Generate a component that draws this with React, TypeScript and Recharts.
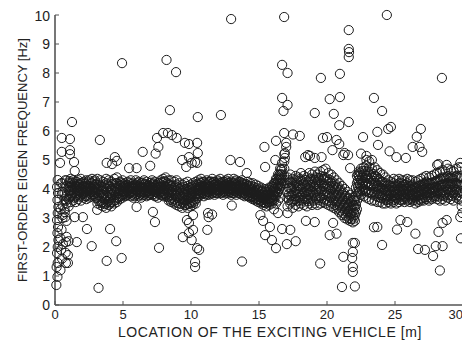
import { ScatterChart, Scatter, XAxis, YAxis } from "recharts";

const xTicks = [0, 5, 10, 15, 20, 25, 30];
const yTicks = [0, 1, 2, 3, 4, 5, 6, 7, 8, 9, 10];

// dense band, one row per location: [x, ...frequencies]
const bandNear = [
  [0.55, 3.1, 3.45, 3.9, 4.2],
  [0.7, 3.3, 3.65, 3.85, 4.05],
  [0.85, 3.5, 3.75, 4.1, 4.3],
  [1.0, 3.4, 3.65, 3.95, 4.2],
  [1.15, 3.55, 3.75, 3.95, 4.2, 4.35],
  [1.33, 3.6, 3.85, 4.05, 4.3],
  [1.52, 3.55, 3.75, 4.0, 4.1, 4.25],
  [1.71, 3.65, 3.85, 3.95, 4.15, 4.3],
  [1.9, 3.6, 3.8, 4.0, 4.2, 4.35],
  [2.12, 3.7, 3.85, 4.1, 4.25],
  [2.3, 3.65, 3.75, 3.9, 4.05, 4.3],
  [2.51, 3.7, 3.85, 3.95, 4.1, 4.3],
  [2.72, 3.8, 3.9, 4.0, 4.2, 4.35],
  [2.93, 3.75, 3.9, 4.05, 4.15, 4.3],
  [3.12, 3.5, 3.7, 3.95, 4.2, 4.35],
  [3.34, 3.45, 3.6, 3.85, 4.1, 4.3],
  [3.53, 3.4, 3.55, 3.8, 3.95, 4.05, 4.25],
  [3.76, 3.35, 3.5, 3.75, 4.0, 4.2, 4.35],
  [3.95, 3.45, 3.6, 3.85, 4.1, 4.3],
  [4.14, 3.4, 3.55, 3.8, 3.95, 4.0, 4.25],
  [4.36, 3.5, 3.6, 3.9, 4.15, 4.35],
  [4.55, 3.55, 3.7, 3.95, 4.2, 4.4],
  [4.77, 3.65, 3.75, 4.0, 4.1, 4.25],
  [4.96, 3.7, 3.8, 3.9, 4.05, 4.3],
  [5.16, 3.75, 3.85, 4.0, 4.1, 4.2],
  [5.34, 3.8, 3.95, 4.05, 4.25],
  [5.57, 3.75, 3.9, 4.0, 4.1, 4.3],
  [5.76, 3.7, 3.85, 4.0, 4.1, 4.2],
  [5.94, 3.8, 3.95, 4.05, 4.15, 4.3],
  [6.16, 3.75, 3.9, 4.0, 4.1, 4.25],
  [6.33, 3.7, 3.85, 3.95, 4.05, 4.2],
  [6.55, 3.8, 3.9, 4.0, 4.15, 4.3],
  [6.74, 3.75, 3.9, 4.1, 4.25],
  [6.96, 3.8, 3.85, 4.0, 4.1, 4.2],
  [7.14, 3.8, 3.95, 4.05, 4.15, 4.3],
  [7.35, 3.75, 3.9, 4.0, 4.1, 4.25],
  [7.56, 3.7, 3.85, 3.95, 4.05, 4.2],
  [7.77, 3.8, 3.9, 4.1, 4.3],
  [7.95, 3.75, 3.85, 4.0, 4.2, 4.35],
  [8.13, 3.8, 3.95, 4.05, 4.25, 4.4],
  [8.36, 3.6, 3.75, 3.95, 4.15, 4.3],
  [8.54, 3.55, 3.7, 3.9, 4.1, 4.3],
  [8.77, 3.5, 3.65, 3.85, 4.05, 4.25],
  [8.94, 3.45, 3.7, 3.95, 4.15, 4.3],
  [9.15, 3.4, 3.6, 3.8, 4.0, 4.2],
  [9.36, 3.35, 3.55, 3.75, 3.95, 4.15],
  [9.54, 3.45, 3.6, 3.8, 4.0, 4.2],
  [9.75, 3.35, 3.5, 3.7, 3.9, 4.1, 4.25],
  [9.96, 3.4, 3.55, 3.75, 3.95, 4.15],
  [10.14, 3.45, 3.6, 3.8, 4.0, 4.2],
  [10.35, 3.5, 3.65, 3.85, 4.05, 4.25],
];

const bandMid = [
  [10.55, 3.75, 3.85, 3.95, 4.15, 4.3],
  [10.74, 3.8, 3.9, 4.0, 4.2, 4.35],
  [10.95, 3.75, 3.85, 4.05, 4.1, 4.25],
  [11.16, 3.8, 3.9, 4.0, 4.15, 4.3],
  [11.34, 3.8, 3.9, 4.05, 4.1, 4.25],
  [11.56, 3.85, 3.95, 4.0, 4.2, 4.35],
  [11.73, 3.8, 3.9, 4.05, 4.15, 4.25],
  [11.95, 3.85, 3.95, 4.1, 4.3],
  [12.14, 3.85, 3.95, 4.05, 4.2, 4.35],
  [12.36, 3.8, 3.9, 4.0, 4.1, 4.25],
  [12.55, 3.85, 4.05, 4.15, 4.3],
  [12.74, 3.85, 3.95, 4.0, 4.2, 4.35],
  [12.96, 3.8, 3.9, 4.0, 4.1, 4.25],
  [13.15, 3.85, 3.95, 4.05, 4.2, 4.35],
  [13.33, 3.8, 3.9, 4.0, 4.15, 4.3],
  [13.56, 3.85, 3.95, 4.05, 4.1, 4.25],
  [13.75, 3.8, 3.9, 4.0, 4.2, 4.3],
  [13.94, 3.75, 3.85, 4.0, 4.05, 4.15],
  [14.16, 3.75, 3.85, 3.95, 4.1, 4.25],
  [14.35, 3.7, 3.8, 3.9, 4.05, 4.2],
  [14.54, 3.65, 3.75, 3.85, 4.0, 4.2],
  [14.76, 3.6, 3.7, 3.8, 3.95, 4.15],
  [14.95, 3.55, 3.65, 3.75, 3.95, 4.1],
  [15.16, 3.5, 3.6, 3.7, 3.9, 4.05],
  [15.34, 3.45, 3.55, 3.65, 3.85, 4.0],
  [15.55, 3.4, 3.5, 3.6, 3.8, 4.0],
  [15.76, 3.45, 3.55, 3.65, 3.85, 4.05],
  [15.95, 3.5, 3.6, 3.7, 3.9, 4.1],
  [16.1, 3.3, 3.6, 3.8, 4.0, 4.2],
  [16.25, 3.5, 3.75, 3.95, 4.15, 4.35],
  [16.4, 3.6, 3.9, 4.1, 4.3, 4.5],
  [16.55, 3.7, 4.1, 4.3, 4.5, 4.7],
  [16.7, 4.3, 4.5, 4.7, 4.9],
  [16.86, 4.2, 4.45, 4.7, 4.95, 5.2],
  [17.1, 3.4, 3.7, 3.9, 4.2, 4.4],
  [17.3, 3.5, 3.75, 4.05, 4.25, 4.5],
  [17.48, 3.35, 3.6, 3.85, 4.1, 4.35],
  [17.7, 3.45, 3.65, 3.95, 4.2, 4.45],
  [17.9, 3.4, 3.7, 3.9, 4.15, 4.4],
  [18.08, 3.5, 3.75, 4.0, 4.3, 4.55],
  [18.3, 3.45, 3.7, 3.9, 4.2, 4.45],
  [18.52, 3.4, 3.65, 3.95, 4.15, 4.4],
  [18.7, 3.5, 3.8, 4.0, 4.3, 4.55],
  [18.9, 3.45, 3.7, 3.95, 4.25, 4.5],
  [19.12, 3.5, 3.8, 4.05, 4.3, 4.6],
  [19.3, 3.45, 3.7, 4.0, 4.25, 4.5],
  [19.5, 3.5, 3.75, 4.0, 4.3, 4.6],
  [19.72, 3.55, 3.8, 4.1, 4.35, 4.65],
  [19.9, 3.5, 3.8, 4.05, 4.3, 4.7],
  [20.1, 3.45, 3.75, 4.0, 4.25, 4.55],
  [20.3, 3.4, 3.7, 3.95, 4.2, 4.5],
];

const bandFar = [
  [20.5, 3.35, 3.6, 3.85, 4.1, 4.4],
  [20.7, 3.3, 3.55, 3.8, 4.05, 4.3],
  [20.9, 3.2, 3.45, 3.7, 3.95, 4.2],
  [21.1, 3.1, 3.35, 3.6, 3.85, 4.1],
  [21.3, 3.0, 3.25, 3.5, 3.75, 4.0],
  [21.5, 2.95, 3.2, 3.4, 3.65, 3.9],
  [21.7, 2.9, 3.1, 3.3, 3.55, 3.8],
  [21.9, 2.85, 3.05, 3.25, 3.45, 3.7],
  [22.05, 2.9, 3.1, 3.35, 3.6],
  [22.2, 3.3, 3.6, 3.9, 4.2, 4.45],
  [22.35, 3.7, 3.95, 4.2, 4.45, 4.6],
  [22.5, 3.8, 4.05, 4.3, 4.5, 4.7],
  [22.7, 3.75, 4.0, 4.25, 4.5, 4.75],
  [22.9, 3.7, 3.95, 4.2, 4.45, 4.8, 5.0],
  [23.1, 3.65, 3.9, 4.2, 4.5, 4.75, 4.95],
  [23.3, 3.6, 3.85, 4.15, 4.4, 4.7, 5.0],
  [23.5, 3.6, 3.9, 4.2, 4.45, 4.75],
  [23.7, 3.55, 3.85, 4.1, 4.4, 4.65],
  [23.9, 3.55, 3.8, 4.05, 4.3, 4.55],
  [24.1, 3.5, 3.75, 4.0, 4.25, 4.5],
  [24.3, 3.5, 3.7, 3.95, 4.2, 4.4],
  [24.5, 3.55, 3.75, 3.95, 4.15, 4.3],
  [24.7, 3.5, 3.7, 3.9, 4.1, 4.25],
  [24.9, 3.55, 3.75, 3.95, 4.2, 4.35],
  [25.1, 3.5, 3.7, 3.9, 4.15, 4.3],
  [25.3, 3.55, 3.75, 3.95, 4.2, 4.35],
  [25.5, 3.6, 3.8, 4.0, 4.2, 4.3],
  [25.7, 3.55, 3.75, 3.95, 4.15, 4.3],
  [25.9, 3.6, 3.8, 4.0, 4.2, 4.35],
  [26.1, 3.55, 3.75, 3.9, 4.1, 4.3],
  [26.3, 3.6, 3.8, 3.95, 4.15, 4.3],
  [26.5, 3.5, 3.7, 3.85, 4.05, 4.25],
  [26.7, 3.55, 3.75, 3.9, 4.1, 4.3],
  [26.9, 3.6, 3.8, 3.95, 4.15, 4.35],
  [27.1, 3.6, 3.8, 4.0, 4.2, 4.4],
  [27.3, 3.65, 3.85, 4.05, 4.25, 4.45],
  [27.5, 3.6, 3.8, 4.0, 4.2, 4.4],
  [27.7, 3.65, 3.85, 4.0, 4.2, 4.45],
  [27.9, 3.7, 3.9, 4.05, 4.25, 4.5],
  [28.1, 3.65, 3.85, 4.05, 4.3, 4.55],
  [28.3, 3.6, 3.85, 4.1, 4.35, 4.6],
  [28.5, 3.65, 3.9, 4.15, 4.4, 4.65],
  [28.7, 3.6, 3.85, 4.1, 4.35, 4.6],
  [28.9, 3.7, 3.95, 4.2, 4.45, 4.7],
  [29.1, 3.65, 3.9, 4.15, 4.4, 4.65],
  [29.3, 3.6, 3.85, 4.1, 4.35, 4.6],
  [29.5, 3.7, 3.95, 4.2, 4.45, 4.7],
  [29.7, 3.65, 3.9, 4.15, 4.4, 4.75],
  [29.9, 3.4, 3.6, 3.85, 4.1, 4.4, 4.75],
];

// the darker core of the band, between the rows above
const coreNear = [
  [1.07, 3.72, 3.93, 4.08, 4.27], [1.25, 3.78, 3.97, 4.12, 4.22], [1.43, 3.7, 3.88, 4.02, 4.18],
  [1.62, 3.8, 3.93, 4.07, 4.24], [1.8, 3.74, 3.9, 4.04, 4.16], [2.01, 3.82, 3.96, 4.08, 4.22],
  [2.21, 3.76, 3.92, 4.03, 4.18], [2.4, 3.8, 3.97, 4.11, 4.23], [2.62, 3.74, 3.91, 4.06, 4.2],
  [2.83, 3.82, 3.94, 4.08, 4.26], [3.03, 3.68, 3.86, 4.02, 4.16], [3.23, 3.58, 3.78, 3.96, 4.14],
  [3.44, 3.52, 3.7, 3.9, 4.08], [3.65, 3.48, 3.66, 3.88, 4.12], [3.86, 3.55, 3.72, 3.92, 4.15],
  [4.05, 3.5, 3.68, 3.87, 4.08], [4.25, 3.56, 3.74, 3.96, 4.18], [4.46, 3.62, 3.8, 4.02, 4.2],
  [4.66, 3.7, 3.86, 4.04, 4.17], [4.86, 3.76, 3.92, 4.12, 4.22], [5.06, 3.82, 3.94, 4.06, 4.16],
  [5.25, 3.78, 3.9, 4.03, 4.14], [5.45, 3.84, 3.97, 4.08, 4.2], [5.66, 3.8, 3.93, 4.05, 4.18],
  [5.85, 3.76, 3.88, 4.02, 4.12], [6.05, 3.83, 3.96, 4.07, 4.2], [6.25, 3.8, 3.92, 4.04, 4.16],
  [6.44, 3.78, 3.9, 4.06, 4.22], [6.64, 3.84, 3.95, 4.05, 4.17], [6.85, 3.79, 3.92, 4.03, 4.14],
  [7.05, 3.85, 3.97, 4.09, 4.22], [7.25, 3.81, 3.93, 4.05, 4.19], [7.45, 3.77, 3.89, 4.02, 4.14],
  [7.66, 3.83, 3.96, 4.07, 4.2], [7.86, 3.8, 3.92, 4.05, 4.24], [8.04, 3.84, 3.98, 4.1, 4.27],
  [8.25, 3.72, 3.88, 4.02, 4.2], [8.45, 3.64, 3.8, 3.98, 4.15], [8.66, 3.6, 3.78, 3.96, 4.12],
  [8.86, 3.56, 3.76, 3.92, 4.1], [9.05, 3.52, 3.7, 3.88, 4.06], [9.26, 3.48, 3.66, 3.85, 4.04],
  [9.45, 3.5, 3.68, 3.86, 4.08], [9.65, 3.45, 3.62, 3.82, 4.0], [9.85, 3.48, 3.66, 3.84, 4.04],
  [10.05, 3.52, 3.7, 3.88, 4.08], [10.25, 3.56, 3.74, 3.92, 4.12], [10.45, 3.68, 3.84, 4.0, 4.16],
];

const coreMid = [
  [10.65, 3.83, 3.96, 4.08, 4.22], [10.85, 3.86, 3.98, 4.1, 4.24], [11.05, 3.82, 3.94, 4.06, 4.2],
  [11.25, 3.88, 4.0, 4.12, 4.22], [11.45, 3.84, 3.97, 4.09, 4.26], [11.65, 3.9, 4.02, 4.13, 4.24],
  [11.85, 3.86, 3.98, 4.08, 4.2], [12.05, 3.9, 4.0, 4.14, 4.26], [12.25, 3.87, 3.99, 4.11, 4.23],
  [12.45, 3.92, 4.02, 4.12, 4.24], [12.65, 3.88, 3.98, 4.1, 4.26], [12.85, 3.9, 4.03, 4.14, 4.22],
  [13.05, 3.86, 3.97, 4.08, 4.19], [13.25, 3.91, 4.02, 4.12, 4.26], [13.45, 3.87, 3.98, 4.1, 4.22],
  [13.65, 3.9, 4.01, 4.13, 4.24], [13.85, 3.84, 3.95, 4.07, 4.18], [14.05, 3.8, 3.92, 4.03, 4.16],
  [14.25, 3.76, 3.88, 3.99, 4.12], [14.45, 3.72, 3.84, 3.96, 4.1], [14.65, 3.68, 3.8, 3.92, 4.06],
  [14.85, 3.64, 3.76, 3.88, 4.02], [15.05, 3.6, 3.72, 3.84, 3.98], [15.25, 3.55, 3.68, 3.8, 3.94],
  [15.45, 3.52, 3.64, 3.76, 3.9], [15.65, 3.55, 3.66, 3.78, 3.92], [15.85, 3.58, 3.7, 3.82, 3.96],
  [16.03, 3.66, 3.8, 3.94, 4.08], [16.18, 3.76, 3.9, 4.04, 4.2], [16.33, 3.86, 4.02, 4.18, 4.34],
  [16.48, 4.0, 4.16, 4.32, 4.48], [16.62, 4.18, 4.34, 4.5, 4.66], [17.2, 3.62, 3.82, 4.04, 4.3],
  [17.4, 3.56, 3.78, 4.0, 4.22], [17.6, 3.64, 3.86, 4.08, 4.3], [17.8, 3.58, 3.8, 4.02, 4.26],
  [18.0, 3.62, 3.84, 4.1, 4.34], [18.2, 3.6, 3.82, 4.06, 4.28], [18.4, 3.66, 3.88, 4.12, 4.32],
  [18.6, 3.58, 3.8, 4.04, 4.26], [18.8, 3.64, 3.9, 4.14, 4.36], [19.0, 3.6, 3.86, 4.1, 4.34],
  [19.2, 3.66, 3.92, 4.16, 4.4], [19.4, 3.62, 3.88, 4.12, 4.38], [19.6, 3.68, 3.94, 4.2, 4.44],
  [19.8, 3.64, 3.92, 4.18, 4.42], [20.0, 3.6, 3.86, 4.12, 4.36], [20.2, 3.56, 3.82, 4.08, 4.32],
  [20.4, 3.5, 3.76, 4.02, 4.26],
];

const coreFar = [
  [20.6, 3.45, 3.7, 3.95, 4.18], [20.8, 3.36, 3.6, 3.84, 4.08], [21.0, 3.26, 3.5, 3.74, 3.98],
  [21.2, 3.16, 3.4, 3.64, 3.88], [21.4, 3.08, 3.3, 3.52, 3.76], [21.6, 3.0, 3.22, 3.44, 3.68],
  [21.8, 2.96, 3.16, 3.36, 3.58], [21.98, 2.98, 3.18, 3.4, 3.62], [22.13, 3.2, 3.45, 3.75, 4.05],
  [22.28, 3.85, 4.08, 4.3, 4.5], [22.43, 3.92, 4.14, 4.36, 4.56], [22.6, 3.95, 4.18, 4.4, 4.62],
  [22.8, 3.92, 4.15, 4.38, 4.62], [23.0, 3.88, 4.12, 4.36, 4.6], [23.2, 3.85, 4.1, 4.34, 4.58],
  [23.4, 3.8, 4.04, 4.28, 4.52], [23.6, 3.76, 3.98, 4.2, 4.44], [23.8, 3.72, 3.92, 4.12, 4.34],
  [24.0, 3.68, 3.86, 4.04, 4.24], [24.2, 3.64, 3.82, 3.98, 4.16], [24.4, 3.62, 3.78, 3.94, 4.1],
  [24.6, 3.64, 3.8, 3.95, 4.12], [24.8, 3.6, 3.76, 3.92, 4.08], [25.0, 3.63, 3.79, 3.95, 4.1],
  [25.2, 3.66, 3.82, 3.97, 4.12], [25.4, 3.62, 3.78, 3.94, 4.1], [25.6, 3.65, 3.8, 3.96, 4.13],
  [25.8, 3.68, 3.84, 3.99, 4.14], [26.0, 3.64, 3.8, 3.95, 4.1], [26.2, 3.66, 3.82, 3.96, 4.12],
  [26.4, 3.62, 3.77, 3.92, 4.08], [26.6, 3.6, 3.76, 3.9, 4.05], [26.8, 3.64, 3.8, 3.94, 4.1],
  [27.0, 3.68, 3.84, 3.98, 4.14], [27.2, 3.7, 3.86, 4.02, 4.18], [27.4, 3.72, 3.88, 4.04, 4.2],
  [27.6, 3.7, 3.86, 4.02, 4.18], [27.8, 3.74, 3.9, 4.06, 4.22], [28.0, 3.76, 3.92, 4.08, 4.26],
  [28.2, 3.74, 3.92, 4.1, 4.3], [28.4, 3.78, 3.96, 4.14, 4.34], [28.6, 3.76, 3.96, 4.16, 4.38],
  [28.8, 3.8, 4.0, 4.2, 4.4], [29.0, 3.78, 3.98, 4.18, 4.38], [29.2, 3.76, 3.96, 4.16, 4.36],
  [29.4, 3.8, 4.0, 4.2, 4.42], [29.6, 3.78, 3.98, 4.18, 4.4], [29.8, 3.74, 3.94, 4.14, 4.36],
];

// start of the track: the vertical spread close to x = 0
const edgePoints = [
  [0.2, 4.31], [0.15, 4.07], [0.22, 3.86], [0.18, 3.62], [0.25, 3.38], [0.2, 3.17],
  [0.15, 2.93], [0.22, 2.69], [0.18, 2.48], [0.25, 2.24], [0.2, 2.0], [0.15, 1.79],
  [0.2, 1.45], [0.12, 1.31], [0.18, 0.97], [0.1, 0.69],
  [0.45, 4.2], [0.5, 3.8], [0.42, 3.3], [0.55, 3.0], [0.48, 2.6], [0.4, 2.3],
  [0.58, 2.1], [0.45, 1.9], [0.52, 1.6], [0.4, 1.2],
  [0.75, 4.3], [0.8, 3.6], [0.72, 3.2], [0.85, 2.9], [0.85, 2.35], [0.78, 1.8],
  [0.95, 1.72], [0.95, 1.45], [1.0, 2.2],
];

const upperPoints = [
  [4.93, 8.34], [8.2, 8.45], [8.9, 8.03], [8.45, 6.72], [1.25, 6.31],
  [0.5, 5.76], [1.1, 5.72], [0.5, 5.28], [1.1, 5.34], [1.1, 5.2], [0.37, 4.9],
  [1.4, 4.93], [1.45, 4.62], [3.3, 5.69], [3.8, 4.9], [4.2, 4.86], [4.4, 5.1],
  [4.55, 4.97], [5.45, 4.72], [6.0, 4.72], [6.45, 5.28], [7.0, 4.8], [7.4, 5.22],
  [7.5, 5.76], [7.6, 5.45], [7.95, 5.93], [8.3, 5.93], [8.6, 5.86], [8.95, 5.76],
  [9.55, 5.59], [9.85, 5.55], [10.45, 5.59], [10.5, 5.24], [9.85, 5.1], [10.3, 4.93],
  [9.35, 5.0], [9.65, 4.76], [10.05, 4.9], [10.45, 4.9], [10.5, 6.48], [12.2, 6.55],
  [12.9, 5.0], [13.6, 4.93], [14.1, 4.55], [12.95, 9.86], [16.85, 9.93],
  [16.7, 8.28], [17.1, 8.0], [16.7, 7.14], [17.1, 6.9], [16.8, 6.69], [15.4, 5.45],
  [15.45, 4.76], [16.2, 5.0], [16.25, 5.66], [16.85, 5.93], [17.5, 5.88], [18.0, 5.83],
  [17.0, 5.59], [17.0, 5.45], [16.9, 5.24], [16.9, 5.07], [18.4, 5.1], [18.6, 5.17],
  [18.75, 5.14], [19.1, 5.07], [19.6, 5.1], [19.7, 5.76], [19.1, 6.62], [19.55, 7.83],
  [20.0, 5.79], [20.2, 7.1], [20.95, 7.17], [20.95, 7.97], [20.5, 6.59], [20.9, 6.2],
  [21.6, 6.31], [20.7, 5.69], [20.9, 5.55], [20.4, 5.34], [21.3, 5.24], [21.2, 5.17],
  [21.55, 5.17], [21.7, 4.72], [21.6, 9.48], [21.6, 8.83], [21.62, 8.72], [21.6, 8.55],
  [22.5, 5.22], [22.65, 5.79], [22.9, 5.14], [23.45, 7.14], [23.7, 5.97], [23.75, 5.52],
  [24.05, 6.69], [24.4, 10.0], [24.5, 6.07], [24.7, 6.14], [24.6, 5.3], [25.1, 5.1],
  [25.8, 5.07], [26.3, 5.45], [26.6, 5.8], [26.9, 6.07], [26.8, 5.45], [27.0, 5.28],
  [28.45, 7.83], [28.1, 4.83], [28.2, 4.86], [28.8, 4.83], [29.8, 4.9],
];

const lowerPoints = [
  [0.75, 3.03], [1.45, 3.03], [2.05, 3.03], [0.8, 2.17], [1.6, 2.17], [0.8, 1.45],
  [2.35, 2.62], [2.7, 2.03], [3.1, 3.28], [4.05, 2.62], [4.5, 2.2], [3.8, 1.52],
  [4.9, 1.62], [3.2, 0.59], [6.0, 3.38], [7.2, 3.21], [7.35, 2.86], [7.65, 1.97],
  [9.4, 2.34], [9.85, 2.48], [10.05, 2.24], [10.15, 2.59], [10.45, 1.96], [10.6, 1.9],
  [9.7, 2.93], [9.85, 2.83], [10.15, 3.1], [10.3, 1.48], [10.3, 1.31], [11.25, 3.17],
  [11.55, 3.12], [11.2, 2.59], [11.3, 3.03], [13.0, 3.43], [13.75, 1.5],
  [15.1, 3.1], [15.3, 2.9], [15.45, 2.41], [15.8, 2.69], [15.95, 2.24], [16.25, 1.96],
  [16.7, 2.62], [17.05, 2.1], [17.3, 2.59], [17.7, 2.2], [16.4, 3.17], [17.1, 3.17],
  [18.45, 2.9], [19.1, 2.86], [19.5, 1.43],
  [20.2, 2.41], [20.7, 2.46], [20.45, 2.83], [21.9, 2.14], [21.9, 1.83], [21.85, 1.62],
  [21.9, 1.31], [21.9, 1.14], [21.2, 1.66], [21.1, 0.62], [22.05, 0.64], [22.05, 2.14],
  [24.05, 2.07], [23.45, 2.68], [23.7, 2.69], [25.15, 2.6], [26.5, 2.46], [26.7, 1.93],
  [27.2, 1.9], [27.8, 1.69], [28.0, 2.03], [28.5, 2.03], [28.3, 1.19], [29.85, 2.3],
  [28.2, 2.52], [28.5, 2.83], [28.8, 2.93], [25.4, 2.93], [25.9, 2.86], [29.8, 3.03],
  [29.95, 3.17],
];

const fromRows = (rows: number[][]) =>
  rows.flatMap(([x, ...ys]) => ys.map((y) => ({ x, y })));
const fromPairs = (pairs: number[][]) => pairs.map(([x, y]) => ({ x, y }));

const points = [
  ...fromRows(bandNear),
  ...fromRows(bandMid),
  ...fromRows(bandFar),
  ...fromRows(coreNear),
  ...fromRows(coreMid),
  ...fromRows(coreFar),
  ...fromPairs(edgePoints),
  ...fromPairs(upperPoints),
  ...fromPairs(lowerPoints),
];

const Ring = (props: any) => (
  <circle cx={props.cx} cy={props.cy} r={4.6} fill="none" stroke="#1c1c1c" strokeWidth={1} />
);

const font = "'Liberation Sans', Arial, sans-serif";
const axisColor = "#555";

// last label sits left of its tick so it stays inside the picture
const XTick = (props: any) => {
  const { x, y, payload } = props;
  const last = payload.value === xTicks[xTicks.length - 1];
  return (
    <text
      x={last ? x + 1 : x}
      y={y}
      dy="0.71em"
      textAnchor={last ? "end" : "middle"}
      fill="#222"
      fontSize={13}
      fontFamily={font}
    >
      {payload.value}
    </text>
  );
};

export default function App() {
  return (
    <div style={{ position: "relative", width: 462, height: 333, fontFamily: font, color: "#222" }}>
      <ScatterChart width={462} height={333} margin={{ top: 7, right: 7, bottom: 0, left: 0 }}>
        <XAxis
          type="number"
          dataKey="x"
          domain={[0, 30]}
          ticks={xTicks}
          height={36}
          tickSize={-4}
          tickMargin={9}
          stroke={axisColor}
          axisLine={{ strokeWidth: 1.6 }}
          tick={<XTick />}
        />
        <XAxis
          xAxisId="top"
          orientation="top"
          type="number"
          domain={[0, 30]}
          ticks={xTicks}
          height={0}
          tickSize={-4}
          tick={false}
          stroke={axisColor}
          axisLine={{ strokeWidth: 1.6 }}
        />
        <YAxis
          type="number"
          dataKey="y"
          domain={[0, 10]}
          ticks={yTicks}
          width={47}
          tickSize={-4}
          tickMargin={9}
          stroke={axisColor}
          axisLine={{ strokeWidth: 1.6 }}
          tick={{ fill: "#222", fontSize: 14, fontFamily: font }}
        />
        <YAxis
          yAxisId="right"
          orientation="right"
          type="number"
          domain={[0, 10]}
          ticks={yTicks}
          width={0}
          tickSize={-4}
          tick={false}
          stroke={axisColor}
          axisLine={{ strokeWidth: 1.6 }}
        />
        <Scatter data={points} shape={Ring} isAnimationActive={false} />
      </ScatterChart>
      <div
        style={{
          position: "absolute",
          left: 262,
          top: 324,
          transform: "translate(-50%, -50%)",
          whiteSpace: "nowrap",
          fontSize: 14,
          letterSpacing: 0.6,
        }}
      >
        LOCATION OF THE EXCITING VEHICLE [m]
      </div>
      <div
        style={{
          position: "absolute",
          left: 14,
          top: 152,
          transform: "translate(-50%, -50%) rotate(-90deg)",
          whiteSpace: "nowrap",
          fontSize: 13,
        }}
      >
        FIRST-ORDER EIGEN FREQUENCY [Hz]
      </div>
    </div>
  );
}
